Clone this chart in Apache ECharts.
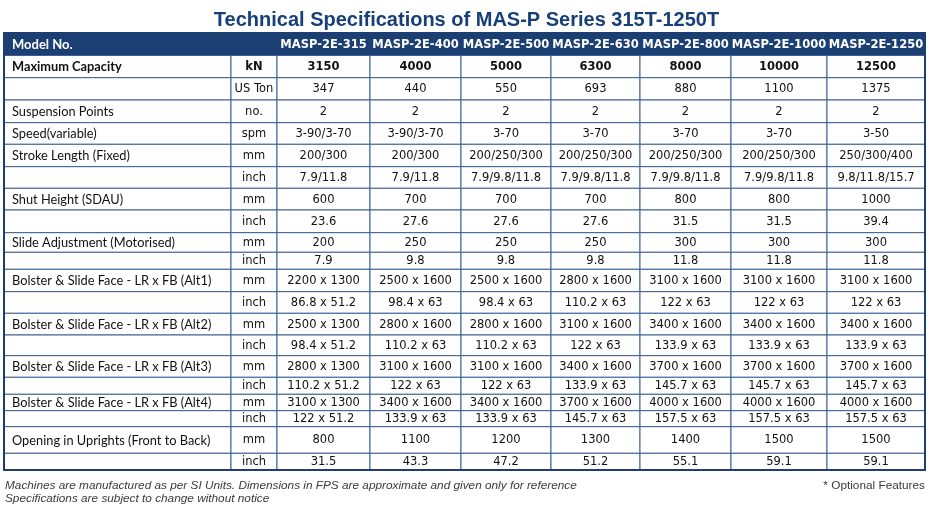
<!DOCTYPE html>
<html>
<head>
<meta charset="utf-8">
<script src="https://cdn.jsdelivr.net/npm/echarts@6/dist/echarts.min.js"></script>
<style>html,body{margin:0;padding:0;background:#fff;}#c{width:933px;height:511px;}</style>
</head>
<body>
<div id="c"></div>
<script>
// ---------- DATA ----------
const title = 'Technical Specifications of MAS-P Series 315T-1250T';
const headerLabel = 'Model No.';
const models = ['MASP-2E-315','MASP-2E-400','MASP-2E-500','MASP-2E-630','MASP-2E-800','MASP-2E-1000','MASP-2E-1250'];
const paramLabels = ['Maximum Capacity','','Suspension Points','Speed(variable)','Stroke Length (Fixed)','',
  'Shut Height (SDAU)','','Slide Adjustment (Motorised)','',
  'Bolster & Slide Face - LR x FB (Alt1)','','Bolster & Slide Face - LR x FB (Alt2)','',
  'Bolster & Slide Face - LR x FB (Alt3)','','Bolster & Slide Face - LR x FB (Alt4)','',
  'Opening in Uprights (Front to Back)',''];
const units = ['kN','US Ton','no.','spm','mm','inch','mm','inch','mm','inch','mm','inch','mm','inch','mm','inch','mm','inch','mm','inch'];

const capacityKN     = ['3150','4000','5000','6300','8000','10000','12500'];
const capacityUSTon  = ['347','440','550','693','880','1100','1375'];
const suspension     = ['2','2','2','2','2','2','2'];
const speed          = ['3-90/3-70','3-90/3-70','3-70','3-70','3-70','3-70','3-50'];
const strokeMM       = ['200/300','200/300','200/250/300','200/250/300','200/250/300','200/250/300','250/300/400'];
const strokeInch     = ['7.9/11.8','7.9/11.8','7.9/9.8/11.8','7.9/9.8/11.8','7.9/9.8/11.8','7.9/9.8/11.8','9.8/11.8/15.7'];
const shutMM         = ['600','700','700','700','800','800','1000'];
const shutInch       = ['23.6','27.6','27.6','27.6','31.5','31.5','39.4'];
const slideMM        = ['200','250','250','250','300','300','300'];
const slideInch      = ['7.9','9.8','9.8','9.8','11.8','11.8','11.8'];
const alt1MM         = ['2200 x 1300','2500 x 1600','2500 x 1600','2800 x 1600','3100 x 1600','3100 x 1600','3100 x 1600'];
const alt1Inch       = ['86.8 x 51.2','98.4 x 63','98.4 x 63','110.2 x 63','122 x 63','122 x 63','122 x 63'];
const alt2MM         = ['2500 x 1300','2800 x 1600','2800 x 1600','3100 x 1600','3400 x 1600','3400 x 1600','3400 x 1600'];
const alt2Inch       = ['98.4 x 51.2','110.2 x 63','110.2 x 63','122 x 63','133.9 x 63','133.9 x 63','133.9 x 63'];
const alt3MM         = ['2800 x 1300','3100 x 1600','3100 x 1600','3400 x 1600','3700 x 1600','3700 x 1600','3700 x 1600'];
const alt3Inch       = ['110.2 x 51.2','122 x 63','122 x 63','133.9 x 63','145.7 x 63','145.7 x 63','145.7 x 63'];
const alt4MM         = ['3100 x 1300','3400 x 1600','3400 x 1600','3700 x 1600','4000 x 1600','4000 x 1600','4000 x 1600'];
const alt4Inch       = ['122 x 51.2','133.9 x 63','133.9 x 63','145.7 x 63','157.5 x 63','157.5 x 63','157.5 x 63'];
const openMM         = ['800','1100','1200','1300','1400','1500','1500'];
const openInch       = ['31.5','43.3','47.2','51.2','55.1','59.1','59.1'];

const rowValues = [capacityKN, capacityUSTon, suspension, speed, strokeMM, strokeInch, shutMM, shutInch,
  slideMM, slideInch, alt1MM, alt1Inch, alt2MM, alt2Inch, alt3MM, alt3Inch, alt4MM, alt4Inch, openMM, openInch];

const footNote1 = 'Machines are manufactured as per SI Units. Dimensions in FPS are approximate and given only for reference';
const footNote2 = 'Specifications are subject to change without notice';
const footNote3 = '* Optional Features';

// ---------- LAYOUT / STYLE ----------
const COL_W = [227, 46, 93, 91, 90, 89, 91, 96, 98];
const ROW_H = [22.5, 22.2, 22.3, 22.7, 21.6, 22.4, 21.6, 21.7, 22.7, 19.6, 17, 22.4, 21.6, 21.7, 20.7, 21.6, 17, 16.4, 16, 26.6, 16.7];
const NAVY = '#1c3f73';
const LINE = '#3a6190';
const LABEL_FONT = 'Lato';
const CELL_FONT = 'DejaVu Sans';

function edges(a){ const e=[0]; a.forEach(v=>e.push(e[e.length-1]+v)); return e; }
const colE = edges(COL_W), rowE = edges(ROW_H);

// build cells
const cells = [];
cells.push({c0:0, c1:COL_W.length, r:0, text:'', kind:'headbg'});
cells.push({c0:0, c1:1, r:0, text:headerLabel, kind:'headlabel'});
models.forEach((m,j)=>cells.push({c0:j+2, c1:j+3, r:0, text:m, kind:'head'}));
for (let i=0;i<rowValues.length;i++){
  const bold = i===0;
  cells.push({c0:0, c1:1, r:i+1, text:paramLabels[i], kind: bold?'labelb':'label'});
  cells.push({c0:1, c1:2, r:i+1, text:units[i], kind: bold?'cellb':'cell'});
  rowValues[i].forEach((v,j)=>cells.push({c0:j+2, c1:j+3, r:i+1, text:v, kind: bold?'cellb':'cell'}));
}
const seriesData = cells.map(c => [(colE[c.c0]+colE[c.c1])/2, (rowE[c.r]+rowE[c.r+1])/2]);

const chart = echarts.init(document.getElementById('c'), null, {renderer:'canvas'});
chart.setOption({
  animation:false,
  backgroundColor:'#fff',
  title:{ text:title, left:'center', top:5,
    textStyle:{ fontFamily:'Liberation Sans', fontWeight:'bold', fontSize:20, color:'#173f78' } },
  grid:{ left:4, right:8, top:33, bottom:41, show:true, borderColor:NAVY, borderWidth:2, backgroundColor:'transparent', z:10 },
  xAxis:{ type:'value', min:0, max:colE[colE.length-1], show:false },
  yAxis:{ type:'value', min:0, max:rowE[rowE.length-1], inverse:true, show:false },
  series:[{
    type:'custom',
    coordinateSystem:'cartesian2d',
    data: seriesData,
    clip:false,
    renderItem:function(params, api){
      const c = cells[params.dataIndex];
      const p0 = api.coord([colE[c.c0], rowE[c.r]]);
      const p1 = api.coord([colE[c.c1], rowE[c.r+1]]);
      const x=p0[0], y=p0[1], w=p1[0]-p0[0], h=p1[1]-p0[1];
      if (c.kind==='headbg'){
        return {type:'rect', shape:{x:x,y:y,width:w,height:h}, style:{fill:NAVY, stroke:NAVY, lineWidth:1}};
      }
      if (c.kind==='headlabel' || c.kind==='head'){
        const left = c.kind==='headlabel';
        return {type:'text', z2:5, style:{ text:c.text, x: left? x+8 : x+w/2, y:y+h/2+0.5,
          align: left?'left':'center', verticalAlign:'middle', fill:'#fff',
          font: left ? ('bold 13px ' + LABEL_FONT) : ('bold 11.5px ' + CELL_FONT) }};
      }
      const isLabel = c.kind==='label' || c.kind==='labelb';
      const bold = c.kind==='labelb' || c.kind==='cellb';
      const font = isLabel ? ((bold?'bold ':'') + '12.8px ' + LABEL_FONT)
                           : ((bold?'bold ':'') + '11.5px ' + CELL_FONT);
      return {type:'group', children:[
        {type:'rect', shape:{x:x,y:y,width:w,height:h}, style:{fill:'#fff', stroke:LINE, lineWidth:1}},
        {type:'text', z2:5, style:{ text:c.text, x: isLabel? x+8 : x+w/2, y:y+h/2+0.5,
          align: isLabel?'left':'center', verticalAlign:'middle', fill:'#111', font:font }}
      ]};
    }
  }],
  graphic:[
    {type:'text', left:5, top:479.5, style:{text:footNote1, font:'italic 11.8px Liberation Sans', fill:'#3a3a3a'}},
    {type:'text', left:5, top:492.5, style:{text:footNote2, font:'italic 11.8px Liberation Sans', fill:'#3a3a3a'}},
    {type:'text', right:8, top:479.5, style:{text:footNote3, font:'11.8px Liberation Sans', fill:'#3a3a3a'}}
  ]
});
</script>
</body>
</html>
